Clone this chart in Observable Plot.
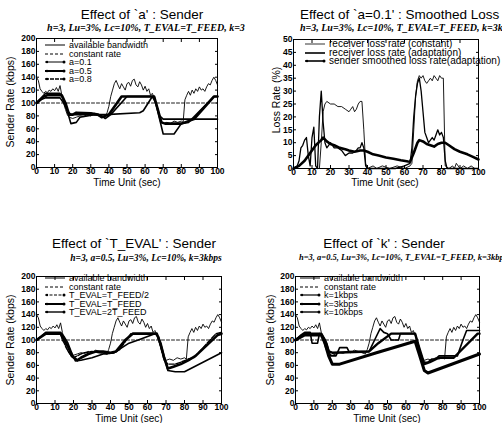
<!DOCTYPE html>
<html><head><meta charset="utf-8">
<script src="https://cdn.jsdelivr.net/npm/d3@7"></script>
<script src="https://cdn.jsdelivr.net/npm/@observablehq/plot@0.6"></script>
<style>
body{margin:0;background:#fff;}
#root{position:relative;width:502px;height:423px;overflow:hidden;font-family:"Liberation Sans",Arial,sans-serif;color:#000;}
.abs{position:absolute;white-space:nowrap;}
.title{font-size:13.5px;transform:translate(-50%,-50%);}
.title.left{transform:translate(0,-50%);}
.sub{font-family:"Liberation Serif","Times New Roman",serif;font-style:italic;font-weight:bold;font-size:10px;transform:translate(-50%,-50%);}
.sub.left{transform:translate(0,-50%);}
.xlab{font-size:10px;transform:translate(-50%,-50%);}
.ylab{font-size:10.5px;transform:translate(-50%,-50%) rotate(-90deg);}
.leg{position:absolute;font-size:9px;line-height:8.5px;}
.leg div{display:flex;align-items:center;height:8.5px;}
.leg svg{margin-right:3px;}
svg.plot{position:absolute;}
</style></head>
<body><div id="root"></div>
<script>
// ---------- data ----------
const bandwidth = [[0,140],[1,135],[2,122],[3,118],[4,115],[5,118],[6,116],[7,120],[8,118],[9,122],[10,119],[11,124],[12,118],[13,127],[14,112],[15,100],[16,90],[17,82],[18,78],[20,76],[22,78],[24,80],[26,79],[28,82],[30,80],[32,84],[34,82],[36,80],[38,78],[39,85],[40,95],[41,110],[42,120],[43,130],[44,135],[45,128],[46,122],[47,130],[48,125],[49,120],[50,130],[51,132],[52,126],[53,135],[54,137],[55,128],[56,125],[57,133],[58,128],[59,120],[60,126],[61,118],[62,122],[63,112],[64,115],[65,108],[66,100],[67,90],[68,80],[69,72],[70,68],[72,70],[74,68],[76,72],[78,70],[80,72],[81,70],[82,105],[83,112],[84,118],[85,112],[86,120],[87,115],[88,122],[89,118],[90,125],[91,120],[92,122],[93,118],[94,125],[95,130],[96,128],[97,135],[98,140],[99,135],[100,128]];
const constantRate = [[0,100],[100,100]];

// Effect of a
const a01 = [[0,100],[3,106],[5,108],[13,108],[15,100],[17,88],[19,82],[38,82],[57,85],[59,88],[64,110],[66,100],[68,80],[70,75],[100,75]];
const a05 = [[0,100],[4,110],[6,112],[14,112],[16,100],[18,82],[20,82],[22,85],[30,84],[34,82],[36,78],[38,80],[40,82],[47,110],[65,110],[67,90],[69,70],[71,68],[80,68],[82,70],[87,75],[98,110],[100,110]];
const a08 = [[0,100],[5,115],[13,115],[15,105],[18,78],[19,68],[22,70],[24,78],[32,82],[36,80],[38,76],[41,82],[50,110],[65,110],[68,75],[70,52],[76,52],[80,68],[84,70],[98,110],[100,110]];

// Smoothed loss (a=0.1)
const lossConstant = [[0,0],[12,0],[14,0],[15,10],[16,22],[17,25],[18,26],[20,25],[22,25],[24,24],[26,24],[28,23],[30,22],[31,23],[32,24],[33,22],[34,23],[35,25],[36,26],[37,26],[38,15],[39,2],[40,0],[43,1],[45,0],[48,1],[52,0],[56,1],[60,0],[63,1],[64,2],[65,15],[66,28],[67,34],[68,36],[69,35],[70,36],[71,34],[72,33],[73,34],[74,35],[75,34],[76,36],[77,35],[78,34],[79,36],[80,35],[81,35],[82,1],[84,0],[86,1],[87,0],[88,2],[90,0],[92,1],[94,0],[96,1],[98,0],[100,0]];
const lossAdapt = [[0,0],[2,1],[3,3],[4,8],[5,9],[6,11],[7,12],[8,5],[9,1],[10,12],[11,16],[12,1],[13,0],[14,20],[15,30],[16,18],[17,10],[18,8],[19,9],[20,10],[22,8],[24,8],[26,7],[28,5],[30,6],[32,6],[34,7],[35,8],[36,8],[37,10],[38,8],[39,1],[40,0],[45,0],[50,0],[55,0],[60,1],[63,2],[64,8],[65,20],[66,28],[67,33],[68,35],[69,30],[70,22],[71,14],[72,12],[73,10],[74,11],[75,12],[76,11],[77,13],[78,15],[79,13],[80,14],[81,12],[82,3],[83,0],[100,0]];
const lossSmoothed = [[0,0],[3,1],[6,3],[9,6],[12,9],[15,11],[16,12],[18,10.5],[20,9.5],[22,9],[25,8],[28,7.5],[30,7],[33,6.5],[36,7],[38,7],[40,6.5],[43,5.5],[46,5],[50,4.3],[54,3.8],[58,3.2],[62,2.7],[63,2.6],[65,6],[67,10],[68,11],[70,10.5],[72,9.5],[74,9],[76,8.5],[78,9.5],[80,10],[82,10],[84,9],[87,7.5],[90,6.5],[94,5.5],[97,4.5],[100,3.5]];

// Effect of T_EVAL
const evalHalf = [[0,100],[4,108],[6,110],[13,110],[14,100],[15,95],[16,88],[18,78],[20,72],[22,75],[24,78],[26,80],[30,82],[34,80],[38,78],[42,80],[45,85],[51,110],[65,110],[67,90],[69,68],[71,62],[75,62],[78,65],[82,70],[85,72],[97,110],[100,112]];
const evalFull = [[0,100],[5,110],[13,110],[15,100],[17,90],[19,75],[22,68],[24,72],[28,78],[32,82],[36,82],[40,80],[43,82],[48,100],[52,110],[65,110],[67,95],[69,72],[71,55],[74,58],[78,62],[82,68],[86,75],[98,108],[100,110]];
const evalDouble = [[0,100],[5,112],[13,112],[15,105],[17,95],[19,80],[21,67],[24,68],[30,72],[36,78],[42,80],[50,95],[55,100],[64,110],[66,105],[68,85],[71,52],[75,50],[80,50],[100,80]];

// Effect of k
const k1 = [[0,100],[3,108],[5,112],[8,112],[9,95],[12,95],[13,110],[15,105],[17,95],[19,75],[22,75],[24,88],[28,88],[29,82],[40,82],[43,100],[46,118],[48,112],[50,110],[52,100],[56,100],[57,110],[65,110],[67,90],[69,65],[72,65],[74,70],[76,70],[78,75],[88,75],[91,100],[93,115],[100,115]];
const k3 = [[0,100],[5,110],[14,110],[16,100],[18,82],[20,80],[40,82],[45,95],[52,110],[65,110],[67,90],[70,62],[73,65],[78,72],[86,72],[99,110],[100,110]];
const k10 = [[0,100],[5,108],[14,108],[16,95],[18,75],[20,62],[24,62],[44,80],[65,98],[67,80],[70,52],[72,48],[100,78]];

const xTicks = [0,10,20,30,40,50,60,70,80,90,100];
const rateTicks = [0,20,40,60,80,100,120,140,160,180,200];
const lossTicks = [0,5,10,15,20,25,30,35,40,45,50];

// ---------- drawing ----------
const root = document.getElementById("root");
function add(cls, text, x, y, extra){
  const d = document.createElement("div");
  d.className = "abs " + cls; d.textContent = text;
  d.style.left = x + "px"; d.style.top = y + "px";
  if (extra) Object.assign(d.style, extra);
  root.appendChild(d); return d;
}
function swatch(style){
  const w = 22, h = 8;
  return `<svg width="${w}" height="${h}"><line x1="1" x2="${w-1}" y1="${h/2}" y2="${h/2}" stroke="#000" stroke-width="${style.w}" ${style.dash?`stroke-dasharray="${style.dash}"`:""}/>${style.dots?`<circle cx="${w-2}" cy="${h/2}" r="1.5"/><circle cx="3" cy="${h/2}" r="1.2"/>`:""}</svg>`;
}
function legend(x, y, items, fs){
  const d = document.createElement("div");
  d.className = "leg"; d.style.left = x+"px"; d.style.top = y+"px";
  if (fs) { d.style.fontSize = fs + "px"; }
  d.innerHTML = items.map(it => `<div>${swatch(it)}<span>${it.label}</span></div>`).join("");
  root.appendChild(d);
}
const blank = () => "";
function panel(o){
  const ml = 30, mr = 8, mt = 6, mb = 14;
  const marks = [
    ...o.series.map(s => Plot.line(s.data, {x: d => d[0], y: d => d[1], stroke: "#000", strokeWidth: s.w, strokeDasharray: s.dash})),
    Plot.frame({stroke: "#000", strokeWidth: 1}),
    Plot.axisX({ticks: xTicks, tickSize: -3, tickPadding: 3, tickFormat: d => d, label: null}),
    Plot.axisX({anchor: "top", ticks: xTicks, tickSize: -3, tickFormat: blank, label: null}),
    Plot.axisY({ticks: o.yTicks, tickSize: -3, tickPadding: 4, tickFormat: d => d, label: null}),
    Plot.axisY({anchor: "right", ticks: o.yTicks, tickSize: -3, tickFormat: blank, label: null})
  ];
  const svg = Plot.plot({
    width: o.w + ml + mr, height: o.h + mt + mb,
    marginLeft: ml, marginRight: mr, marginTop: mt, marginBottom: mb,
    x: {domain: [0,100], label: null},
    y: {domain: o.yDomain, label: null},
    style: {fontFamily: "'Liberation Sans', Arial, sans-serif", fontSize: "8.5px", fontWeight: "bold", background: "transparent", overflow: "visible"},
    marks
  });
  svg.classList.add("plot");
  svg.style.left = (o.x - ml) + "px";
  svg.style.top = (o.y - mt) + "px";
  root.appendChild(svg);
}

const bwS = {data: bandwidth, w: 0.9};
const crS = {data: constantRate, w: 0.9, dash: "3,2"};

// Panel 1
panel({x: 36, y: 38, w: 181, h: 129, yDomain: [0,200], yTicks: rateTicks,
  series: [bwS, crS, {data: a01, w: 1.6}, {data: a05, w: 2.6}, {data: a08, w: 1.6}]});
add("title", "Effect of `a' : Sender", 142, 14);
add("sub", "h=3, Lu=3%, Lc=10%, T_EVAL=T_FEED, k=3", 146, 27);
add("xlab", "Time Unit (sec)", 127, 182);
add("ylab", "Sender Rate (kbps)", 10, 102);
legend(44, 41, [
  {label: "available bandwidth", w: 1},
  {label: "constant rate", w: 1, dash: "3,2"},
  {label: "a=0.1", w: 1, dots: true},
  {label: "a=0.5", w: 2, dots: true},
  {label: "a=0.8", w: 1.4, dots: true, dash: "4,1"}
]);

// Panel 2
panel({x: 293, y: 39, w: 185, h: 129, yDomain: [0,50], yTicks: lossTicks,
  series: [{data: lossConstant, w: 0.9}, {data: lossAdapt, w: 1.3}, {data: lossSmoothed, w: 2.6}]});
add("title left", "Effect of `a=0.1' : Smoothed Loss Rate", 300, 14, {fontSize: "13.5px"});
add("sub left", "h=3, Lu=3%, Lc=10%, T_EVAL=T_FEED, k=3kbps", 300, 27);
add("xlab", "Time Unit (sec)", 385, 182);
add("ylab", "Loss Rate (%)", 276, 100);
legend(304, 40, [
  {label: "receiver loss rate (constant)", w: 0.8},
  {label: "receiver loss rate (adaptation)", w: 1.6},
  {label: "sender smoothed loss rate(adaptation)", w: 1.6, dots: true}
], 10);

// Panel 3
panel({x: 36, y: 276, w: 185, h: 127, yDomain: [0,200], yTicks: rateTicks,
  series: [bwS, crS, {data: evalHalf, w: 1.4, dash: "5,1.5"}, {data: evalFull, w: 2.6}, {data: evalDouble, w: 1.6}]});
add("title", "Effect of `T_EVAL' : Sender", 134, 243);
add("sub", "h=3, a=0.5, Lu=3%, Lc=10%, k=3kbps", 146, 258, {fontSize: "9.5px"});
add("xlab", "Time Unit (sec)", 129, 418);
add("ylab", "Sender Rate (kbps)", 10, 340);
legend(44, 274, [
  {label: "available bandwidth", w: 1},
  {label: "constant rate", w: 1, dash: "3,2"},
  {label: "T_EVAL=T_FEED/2", w: 1.2, dots: true, dash: "3,1.5"},
  {label: "T_EVAL=T_FEED", w: 2, dots: true},
  {label: "T_EVAL=2T_FEED", w: 1.4, dots: true}
]);

// Panel 4
panel({x: 295, y: 276, w: 184, h: 127, yDomain: [0,200], yTicks: rateTicks,
  series: [bwS, crS, {data: k1, w: 1.6}, {data: k3, w: 2.4}, {data: k10, w: 3}]});
add("title", "Effect of `k' : Sender", 384, 243);
add("sub", "h=3, a=0.5, Lu=3%, Lc=10%, T_EVAL=T_FEED, k=3kbps", 299, 257, {fontSize: "8.5px", transform: "translate(0,-50%)"});
add("xlab", "Time Unit (sec)", 387, 418);
add("ylab", "Sender Rate (kbps)", 270, 340);
legend(299, 274, [
  {label: "available bandwidth", w: 1},
  {label: "constant rate", w: 1, dash: "3,2"},
  {label: "k=1kbps", w: 1.2, dots: true},
  {label: "k=3kbps", w: 2, dots: true},
  {label: "k=10kbps", w: 1.4, dots: true}
]);
</script>
</body></html>
